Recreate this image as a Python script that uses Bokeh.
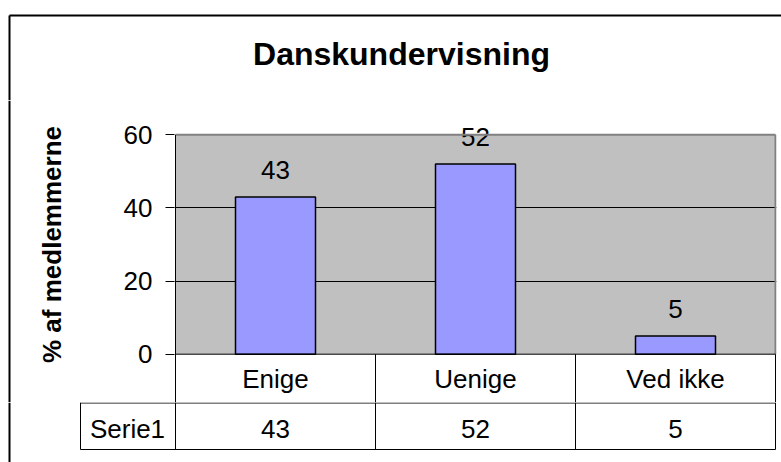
from math import pi
from bokeh.plotting import figure
from bokeh.layouts import column, row
from bokeh.models import (FactorRange, Range1d, FixedTicker, BoxAnnotation,
                          ColumnDataSource)
from bokeh.core.properties import value
from bokeh.embed import file_html
from bokeh.resources import INLINE

# ---- data ----
title_text = "Danskundervisning"
y_label = "% af medlemmerne"
categories = ["Enige", "Uenige", "Ved ikke"]
values = [43, 52, 5]
series_name = "Serie1"
y_ticks = [0, 20, 40, 60]
grid_ticks = [20, 40]

# ---- layout constants (page pixels) ----
FONT = "Liberation Sans"
FS = "26px"
W = 781
TOP_H, MID_H, BOT_H = 100, 302, 60       # stacked strips
LEFT_W = 115                              # strip left of the chart figure
AXIS_W = 59                               # axis panel of the chart figure
N = len(categories)
PPX = 200.0                               # pixels per category
PLOT_X = 175.0                            # page x of category 0 start
PAD = 1.0 / PPX
Y_TOP_PX, Y_ZERO_PX = 134.3, 353.7        # page y of 60 and 0
PPY = (Y_ZERO_PX - Y_TOP_PX) / 60.0
BL = -9                                   # baseline correction (px)


def sx(px):
    """page x -> synthetic category coordinate"""
    return (px - PLOT_X) / PPX


def bare(fig):
    fig.outline_line_color = None
    fig.background_fill_color = "white"
    fig.border_fill_color = "white"
    fig.min_border = 0
    fig.grid.visible = False
    return fig


TXT = dict(text_font=value(FONT), text_font_size=FS, text_color="black",
           text_align="center", text_baseline="alphabetic")

# ---------- top strip: title + border ----------
top = bare(figure(width=W, height=TOP_H, x_range=Range1d(sx(0), sx(W)),
                  y_range=Range1d(TOP_H, 0), output_backend="svg",
                  toolbar_location=None, x_axis_location=None,
                  y_axis_location=None))
top.text(x=[sx(401)], y=[63], text=[title_text], y_offset=-10,
         text_font=value(FONT), text_font_size="32px", text_font_style="bold",
         text_color="black", text_align="center", text_baseline="alphabetic")
top.segment(x0=[sx(9), sx(9)], y0=[15, 15], x1=[sx(W + 5), sx(9)], y1=[15, TOP_H],
            line_color="black", line_width=2)

# ---------- left strip: y label + border ----------
left = bare(figure(width=LEFT_W, height=MID_H,
                   x_range=Range1d(sx(0), sx(LEFT_W)),
                   y_range=Range1d(TOP_H + MID_H, TOP_H), output_backend="svg",
                   toolbar_location=None, x_axis_location=None,
                   y_axis_location=None))
left.segment(x0=[sx(9)], y0=[TOP_H], x1=[sx(9)], y1=[TOP_H + MID_H],
             line_color="black", line_width=2)
left.text(x=[sx(63)], y=[(Y_TOP_PX + Y_ZERO_PX) / 2], text=[y_label], angle=pi / 2,
          x_offset=-12,
          text_font=value(FONT), text_font_size="26px", text_font_style="bold",
          text_color="black", text_align="center", text_baseline="alphabetic")

# ---------- chart ----------
frame_right = PLOT_X + (N + PAD) * PPX
FR = W - frame_right
Y1 = 60 + (Y_TOP_PX - TOP_H) / PPY
Y0 = -(TOP_H + MID_H - Y_ZERO_PX) / PPY

p = figure(width=W - LEFT_W, height=MID_H,
           x_range=FactorRange(*categories, range_padding=PAD,
                               range_padding_units="absolute"),
           y_range=Range1d(Y0, Y1),
           output_backend="svg", toolbar_location=None,
           x_axis_location=None, y_axis_location="left",
           min_border_left=AXIS_W, min_border_right=int(round(FR)),
           min_border_top=0, min_border_bottom=0)
p.outline_line_color = None
p.background_fill_color = "white"
p.border_fill_color = "white"
p.xgrid.visible = False
p.ygrid.ticker = FixedTicker(ticks=grid_ticks)
p.ygrid.grid_line_color = "black"
p.ygrid.grid_line_width = 1

ax = p.yaxis[0]
ax.ticker = FixedTicker(ticks=y_ticks)
ax.major_tick_out = 9
ax.major_tick_in = 0
ax.minor_tick_out = 0
ax.minor_tick_in = 0
ax.axis_line_color = None
ax.major_tick_line_color = "black"
ax.major_label_text_font = FONT
ax.major_label_text_font_size = FS
ax.major_label_text_color = "black"
ax.major_label_standoff = 13

p.add_layout(BoxAnnotation(bottom=0, top=y_ticks[-1], left=0, right=N,
                           fill_color="#C0C0C0", fill_alpha=1,
                           line_color=None, level="image"))

src = ColumnDataSource(dict(cat=categories, val=values,
                            txt=[str(v) for v in values]))

p.vbar(x="cat", top="val", width=0.4, source=src,
       fill_color="#9999FF", line_color="black", line_width=1.5)
p.text(x="cat", y="val", text="txt", source=src, y_offset=-18 + BL, **TXT)

# plot area border: grey top/right, black left/bottom, table column lines
p.segment(x0=[0, N], y0=[y_ticks[-1], 0], x1=[N, N], y1=[y_ticks[-1], y_ticks[-1]],
          line_color="#808080", line_width=2)
p.segment(x0=[0, 0], y0=[y_ticks[-1], 0], x1=[0, N], y1=[Y0, 0],
          line_color="black", line_width=1)
p.segment(x0=list(range(1, N + 1)), y0=[0] * N,
          x1=list(range(1, N + 1)), y1=[Y0] * N,
          line_color="black", line_width=1)

# category row of the data table
p.text(x="cat", y=-(387 - Y_ZERO_PX) / PPY, text="cat", source=src,
       y_offset=BL, **TXT)

# ---------- bottom strip: series row of the data table ----------
y_top, y_bot = TOP_H + MID_H, TOP_H + MID_H + BOT_H
bot = bare(figure(width=W, height=BOT_H, x_range=Range1d(sx(0), sx(W)),
                  y_range=Range1d(y_bot, y_top), output_backend="svg",
                  toolbar_location=None, x_axis_location=None,
                  y_axis_location=None))
cell_left = sx(80)
row_line_top = y_top + 0.5
row_line_bot = 449
bot.segment(x0=[cell_left, cell_left], y0=[row_line_top, row_line_bot],
            x1=[N, N], y1=[row_line_top, row_line_bot],
            line_color="black", line_width=1)
col_x = [cell_left] + list(range(0, N + 1))
bot.segment(x0=col_x, y0=[y_top] * len(col_x), x1=col_x,
            y1=[row_line_bot] * len(col_x), line_color="black", line_width=1)
bot.segment(x0=[sx(9)], y0=[y_top], x1=[sx(9)], y1=[y_bot],
            line_color="black", line_width=2)
bot.text(x=[sx(127)], y=[437], text=[series_name], y_offset=BL, **TXT)
bot.text(x=[i + 0.5 for i in range(N)], y=[437] * N,
         text=[str(v) for v in values], y_offset=BL, **TXT)

layout = column(top, row(left, p), bot)
open("out.html", "w").write(file_html(layout, INLINE))
